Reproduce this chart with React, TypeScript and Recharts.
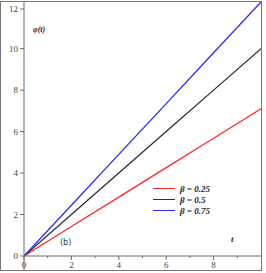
import React from 'react';
import { LineChart, Line, XAxis, YAxis, ReferenceLine } from 'recharts';

// t values and phi(t) for each beta
const tValues = [0, 2, 4, 6, 8, 10];
const phiBeta025 = [0, 1.42, 2.84, 4.26, 5.68, 7.1];
const phiBeta05 = [0, 2, 4, 6, 8, 10];
const phiBeta075 = [0, 2.45, 4.9, 7.35, 9.8, 12.25];

const xTicks = [0, 1, 2, 3, 4, 5, 6, 7, 8, 9];
const yTicks = [0, 1, 2, 3, 4, 5, 6, 7, 8, 9, 10, 11, 12];

const series = [
  { key: 'b025', label: 'β = 0.25', color: '#ff2b2b', values: phiBeta025 },
  { key: 'b05', label: 'β = 0.5', color: '#2e2e2e', values: phiBeta05 },
  { key: 'b075', label: 'β = 0.75', color: '#2b2bff', values: phiBeta075 },
];

const data = tValues.map((t, i) => {
  const row: Record<string, number> = { t };
  series.forEach((s) => {
    row[s.key] = s.values[i];
  });
  return row;
});

const axisColor = '#6a6a6a';
const tickFont = '"Liberation Serif", "DejaVu Serif", serif';

const XTick = (props: any) => {
  const { x, y, payload } = props;
  const major = payload.value % 2 === 0;
  return (
    <g>
      <line x1={x} x2={x} y1={y} y2={y + (major ? 4 : 2)} stroke={axisColor} strokeWidth={1} />
      {major && (
        <text x={x} y={y + 12} textAnchor="middle" fontSize={9} fontFamily={tickFont} fill="#444">
          {payload.value}
        </text>
      )}
    </g>
  );
};

const YTick = (props: any) => {
  const { x, y, payload } = props;
  const major = payload.value % 2 === 0;
  return (
    <g>
      <line x1={x - (major ? 4 : 2)} x2={x} y1={y} y2={y} stroke={axisColor} strokeWidth={1} />
      {major && (
        <text x={x - 6} y={y + 3} textAnchor="end" fontSize={9} fontFamily={tickFont} fill="#444">
          {payload.value}
        </text>
      )}
    </g>
  );
};

const labelFont = '"Liberation Serif", "DejaVu Serif", serif';

export default function App() {
  return (
    <div style={{ position: 'absolute', left: 0, top: 0, width: 266, height: 273, background: '#fff' }}>
      <div
        style={{
          position: 'absolute',
          left: 0,
          top: 1,
          width: 262,
          height: 270,
          border: '1px solid #777',
          boxSizing: 'border-box',
        }}
      />
      <LineChart width={266} height={273} data={data} margin={{ top: 2, right: 5, left: 0, bottom: 0 }}>
        <XAxis
          dataKey="t"
          type="number"
          domain={[0, 10]}
          ticks={xTicks}
          tickSize={0}
          tickMargin={0}
          tick={<XTick />}
          height={17}
          stroke={axisColor}
          allowDataOverflow
        />
        <YAxis
          type="number"
          domain={[0, 12.25]}
          ticks={yTicks}
          tickSize={0}
          tickMargin={0}
          tick={<YTick />}
          width={24}
          stroke={axisColor}
          allowDataOverflow
        />
        <ReferenceLine
          segment={[{ x: 0, y: -0.7 }, { x: 0, y: 0 }]}
          stroke={axisColor}
          ifOverflow="visible"
        />
        {series.map((s) => (
          <Line
            key={s.key}
            type="linear"
            dataKey={s.key}
            stroke={s.color}
            strokeWidth={1.3}
            dot={false}
            isAnimationActive={false}
          />
        ))}
      </LineChart>
      <span
        style={{
          position: 'absolute',
          left: 33,
          top: 25,
          fontFamily: labelFont,
          fontStyle: 'italic',
          fontWeight: 'bold',
          fontSize: 8,
          color: '#1c2333',
        }}
      >
        φ(t)
      </span>
      <span
        style={{
          position: 'absolute',
          left: 231,
          top: 234,
          fontFamily: labelFont,
          fontStyle: 'italic',
          fontWeight: 'bold',
          fontSize: 9,
          color: '#1c2333',
        }}
      >
        t
      </span>
      <span
        style={{
          position: 'absolute',
          left: 60,
          top: 238,
          fontFamily: '"DejaVu Sans", sans-serif',
          fontSize: 8,
          color: '#2a3550',
        }}
      >
        (b)
      </span>
      <div style={{ position: 'absolute', left: 153, top: 183 }}>
        {series.map((s) => (
          <div key={s.key} style={{ display: 'flex', alignItems: 'center', height: 11 }}>
            <div style={{ width: 22, height: 0, borderTop: `1.3px solid ${s.color}`, marginRight: 5 }} />
            <span
              style={{
                fontFamily: labelFont,
                fontStyle: 'italic',
                fontWeight: 'bold',
                fontSize: 9,
                color: '#222',
              }}
            >
              {s.label}
            </span>
          </div>
        ))}
      </div>
    </div>
  );
}
